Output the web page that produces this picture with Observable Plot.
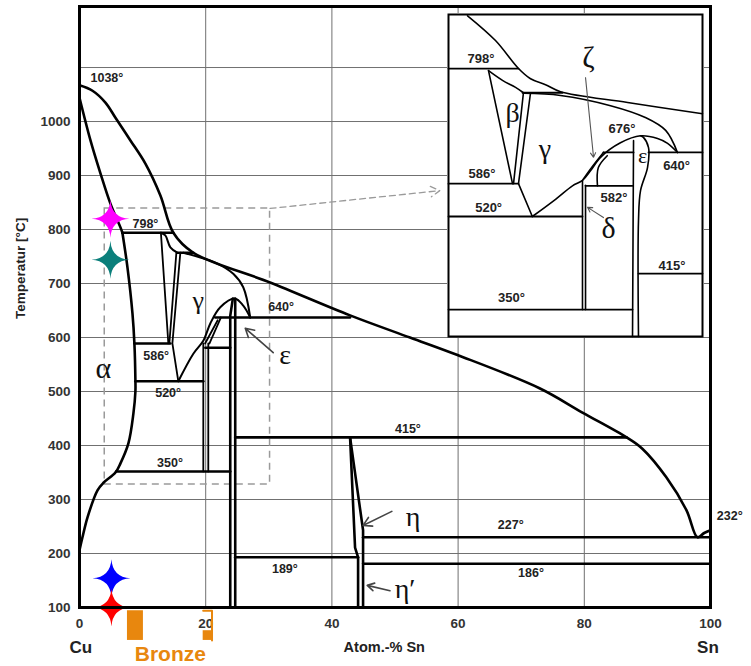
<!DOCTYPE html>
<html><head><meta charset="utf-8">
<script src="https://cdn.jsdelivr.net/npm/d3@7"></script>
<script src="https://cdn.jsdelivr.net/npm/@observablehq/plot@0.6"></script>
<style>
body{margin:0;background:#fff;}
#wrap{position:relative;width:751px;height:666px;overflow:hidden;}
#main{position:absolute;left:0;top:0;}
#inset{position:absolute;left:447px;top:13px;}
</style></head><body>
<div id="wrap"><div id="main"></div><div id="inset"></div></div>
<script>
// ---------- axes ----------
const xTicks = [0, 20, 40, 60, 80, 100];
const yTicks = [100, 200, 300, 400, 500, 600, 700, 800, 900, 1000];
const xGrid = [20, 40, 60, 80];
const yGrid = [200, 300, 400, 500, 600, 700, 800, 900, 1000, 1100];

// ---------- main diagram: [Atom-% Sn, °C] ----------
const liquidus = [[0,1067],[2.06,1057],[4.11,1035],[5.7,1007],[8.07,965],[10.44,922],[12.82,863],[14.87,794],[18.04,757],[30.2,702],[42.88,641],[52.37,600],[59.8,568],[72.9,506],[79.7,461],[86.7,415],[89.2,394],[93.0,341],[96.2,280],[97.94,230],[99.0,238],[100,243]];
const solidusAlpha = [[0,1044],[1.74,965],[3.32,904],[4.9,848],[6.49,804],[6.8,794]];
const solvusAlpha = [[6.8,794],[7.6,730],[8.39,645],[8.7,589],[8.86,520],[8.86,500],[8.54,459],[7.75,404],[6.49,367],[5.7,350],[3.8,331],[2.85,317],[1.27,267],[0.47,230],[0,206]];
// isotherms: [T, x from, x to]
const isotherms = [[794,6.8,14.87],[757,15.5,18.04],[589,8.7,14.4],[519,8.86,19.62],[352,5.8,23.89],[637,21.52,42.88],[581,19.94,23.89],[415,24.68,86.7],[230,44.94,100],[193,24.68,44.15],[181,44.94,100]];
const betaLeft = [[12.9,794],[14.08,589]];
const betaTop = [[12.9,794],[13.6,789],[14.4,767],[15.5,757]];
const betaRight = [[15.35,757],[14.24,589]];
const gammaLeft = [[15.98,757],[14.72,589],[15.66,519]];
const gammaDome = [[15.66,519],[18.04,570],[19.62,594],[20.73,626],[22.31,656],[24.68,672],[25.95,659],[27.06,637]];
const gammaSolidus = [[16.45,757],[21.84,737],[24.37,718],[25.95,693],[27.06,637]];
const deltaA = [[19.62,589],[19.62,352]];
const deltaB = [[20.41,589],[20.41,352]];
const domeInnerA = [[19.9,589],[21.9,632]];
const domeInnerB = [[20.6,589],[22.4,637]];
const epsLeft = [[24.3,672],[23.89,640],[23.89,100]];
const epsRight = [[24.68,672],[24.68,100]];
const etaLeft = [[42.88,415],[43.67,211],[44.15,193],[44.15,100]];
const etaRight = [[42.88,415],[44.94,243],[44.94,100]];

const degLabelsMain = [["1038°",1.74,1080],["798°",8.4,811],["586°",10.1,565],["520°",12.0,498],["350°",12.3,367],["640°",29.9,656],["415°",50.0,430],["227°",66.3,252],["189°",30.5,172],["186°",69.5,163],["232°",101,270]];
const greekMain = [["α",3.8,543,30],["γ",18.83,669,26],["ε",32.6,567,28],["η",52.85,268,28],["η′",51.6,135,28]];
const arrowsMain = [[30.7,572,26.27,617],[49.5,278,44.94,252],[49.2,131,45.6,141]];

// samples (stars)
const starX = [4.9, 4.9, 5.06, 5.06];
const starT = [820, 744, 154, 100];
const starColors = ["#ff00ff", "#0b7f7b", "#0000ff", "#ff0000"];

// zoom window and pointer
const zoomBox = [4.0, 30.2, 328, 839];
const zoomPointer = [30.2, 839, 57.1, 872];

// bronze range marks (below axis)
const bronzeBar = [7.6, 10.13, 39, 94];
const bronzeBracket = [19.6, 21.0, 39, 57, 94];

// ---------- inset (magnified schematic) ----------
const iLiquidus = [[11.2,896],[13.4,850],[15.21,798],[16.16,779],[17.34,768],[18.52,755],[23.8,735],[29.7,714]];
const iGammaSolidus = [[15.6,752],[18.52,748],[22.46,729],[25.2,707],[26.8,683],[27.73,642]];
const iIsotherms = [[798,9.7,15.21],[753,15.53,18.68],[584,9.7,15.21],[523,9.7,20.25],[350,9.7,24.19],[580,20.49,24.19],[642,25.45,29.7],[642,21.9,24.27],[417,24.66,29.7]];
const iBetaLeft = [[12.85,794],[14.74,584]];
const iBetaTop = [[12.85,794],[13.95,776],[14.98,763],[15.6,753]];
const iBetaRight = [[15.6,753],[14.82,584]];
const iGammaLeft = [[16.16,753],[15.21,584],[16.3,523]];
const iGammaDome = [[16.3,523],[18.13,555],[19.46,580],[20.25,590],[20.88,608],[21.67,633],[23.24,660],[24.82,673],[26.16,668],[26.95,659],[27.73,642]];
const iDeltaA = [[20.25,590],[20.25,350]];
const iDeltaB = [[20.49,581],[20.49,350]];
const iZetaA = [[20.3,592],[20.9,612],[21.9,642]];
const iZetaB = [[21.43,580],[21.5,614],[22.2,636]];
const iEpsLeft = [[24.27,664],[24.19,300]];
const iEpsRight = [[24.82,673],[25.05,670],[25.45,651],[25.37,614],[24.82,571],[24.66,515],[24.66,300]];
const degLabelsInset = [["798°",11.2,816],["586°",11.27,603],["520°",11.8,540],["350°",13.6,372],["676°",22.3,686],["640°",26.6,618],["582°",21.67,558],["415°",26.24,432]];
const greekInset = [["β",14.74,716,28],["γ",17.3,648,28],["ζ",20.72,818,30],["δ",22.3,501,30],["ε",24.98,636,22]];
const arrowsInset = [[20.49,781,21.12,633],[21.9,521,20.65,540]];

// ---------- helpers ----------
const SANS = "'Liberation Sans', Arial, Helvetica, sans-serif";
const SERIF = "'Liberation Serif', 'DejaVu Serif', serif";
function rows(curves) {
  return curves.flatMap((pts, i) => pts.map(p => ({id: i, x: p[0], T: p[1]})));
}
function isoRows(list) {
  return rows(list.map(([T, a, b]) => [[a, T], [b, T]]));
}
const star4 = {
  draw(ctx, size) {
    const r = Math.sqrt(size / Math.PI);
    const c = r * 0.06;
    ctx.moveTo(0, -r);
    ctx.quadraticCurveTo(c, -c, r, 0);
    ctx.quadraticCurveTo(c, c, 0, r);
    ctx.quadraticCurveTo(-c, c, -r, 0);
    ctx.quadraticCurveTo(-c, -c, 0, -r);
    ctx.closePath();
  }
};
const lbl = (arr, extra = {}) => Plot.text(arr, {x: d => d[1], y: d => d[2], text: d => d[0], textAnchor: "start", fontSize: 12.5, fontWeight: "bold", fill: "#222", fontFamily: SANS, ...extra});
const greek = (arr) => Plot.text(arr, {x: d => d[1], y: d => d[2], text: d => d[0], fontSize: d => d[3], fontFamily: SERIF, fill: "#111"});

const stars = starX.map((x, i) => ({x, T: starT[i], c: starColors[i]}));

// ---------- main plot ----------
const main = Plot.plot({
  width: 751, height: 666,
  marginLeft: 79, marginRight: 41, marginTop: 6, marginBottom: 59,
  style: {fontFamily: SANS, background: "white", overflow: "visible"},
  x: {domain: [0, 100]},
  y: {domain: [100, 1213]},
  marks: [
    Plot.ruleX(xGrid, {stroke: "#707070", strokeWidth: 1}),
    Plot.ruleY(yGrid, {stroke: "#707070", strokeWidth: 1}),
    Plot.axisY(yTicks, {tickSize: 0, tickPadding: 9, fontSize: 13.5, fontWeight: "bold", fill: "#333", label: null, tickFormat: d => String(d)}),
    Plot.axisX(xTicks, {tickSize: 0, tickPadding: 11, fontSize: 13.5, fontWeight: "bold", fill: "#333", label: null, tickFormat: d => String(d)}),
    // dashed zoom window
    Plot.rect([zoomBox], {x1: d => d[0], x2: d => d[1], y1: d => d[2], y2: d => d[3], fill: "none", stroke: "#9a9a9a", strokeWidth: 1.5, strokeDasharray: "7,5"}),
    Plot.arrow([zoomPointer], {x1: d => d[0], y1: d => d[1], x2: d => d[2], y2: d => d[3], stroke: "#9a9a9a", strokeWidth: 1.3, strokeDasharray: "6,4", headLength: 12, bend: 0}),
    // phase boundaries
    Plot.line(rows([liquidus, solidusAlpha, solvusAlpha]), {x: "x", y: "T", z: "id", stroke: "black", strokeWidth: 2.6, curve: "catmull-rom"}),
    Plot.line(isoRows(isotherms), {x: "x", y: "T", z: "id", stroke: "black", strokeWidth: 2.6}),
    Plot.line(rows([gammaDome, gammaSolidus, betaTop]), {x: "x", y: "T", z: "id", stroke: "black", strokeWidth: 2, curve: "catmull-rom"}),
    Plot.line(rows([betaLeft, betaRight, gammaLeft, domeInnerA, domeInnerB, deltaA, deltaB]), {x: "x", y: "T", z: "id", stroke: "black", strokeWidth: 1.8}),
    Plot.line(rows([epsLeft, epsRight, etaLeft, etaRight]), {x: "x", y: "T", z: "id", stroke: "black", strokeWidth: 2.6}),
    Plot.arrow(arrowsMain, {x1: d => d[0], y1: d => d[1], x2: d => d[2], y2: d => d[3], stroke: "#444", strokeWidth: 1.6, headLength: 9, bend: 0}),
    lbl(degLabelsMain),
    greek(greekMain),
    Plot.text([["Temperatur [°C]", -9.3, 728]], {x: d => d[1], y: d => d[2], text: d => d[0], rotate: -90, fontSize: 13.5, fontWeight: "bold", fill: "#222"}),
    Plot.text([["Cu", 0.2, 26], ["Atom.-% Sn", 48.3, 26], ["Sn", 99.6, 26]], {x: d => d[1], y: d => d[2], text: d => d[0], fontSize: d => d[0] === "Atom.-% Sn" ? 14.5 : 17, fontWeight: "bold", fill: "#222"}),
    // bronze
    Plot.rect([bronzeBar], {x1: d => d[0], x2: d => d[1], y1: d => d[2], y2: d => d[3], fill: "#e8870e"}),
    Plot.rect([bronzeBracket], {x1: d => d[0], x2: d => d[1], y1: d => d[2], y2: d => d[3], fill: "#e8870e"}),
    Plot.line([[bronzeBracket[0], bronzeBracket[4]], [bronzeBracket[1], bronzeBracket[4]], [bronzeBracket[1], bronzeBracket[2]]], {x: d => d[0], y: d => d[1], stroke: "#e8870e", strokeWidth: 2}),
    Plot.text([["Bronze", 14.4, 13]], {x: d => d[1], y: d => d[2], text: d => d[0], fontSize: 21, fontWeight: "bold", fill: "#e8870e"}),
    // samples
    Plot.dot(stars, {x: "x", y: "T", fill: "c", r: 19, symbol: star4, stroke: "none"}),
    Plot.frame({stroke: "black", strokeWidth: 3})
  ]
});
document.getElementById("main").append(main);

// ---------- inset plot ----------
const inset = Plot.plot({
  width: 257, height: 324,
  marginLeft: 1, marginRight: 2, marginTop: 1, marginBottom: 1,
  style: {fontFamily: SANS, background: "white", overflow: "visible"},
  x: {domain: [9.7, 29.7], axis: null},
  y: {domain: [300, 898.4], axis: null},
  marks: [
    Plot.line(rows([iLiquidus, iGammaSolidus, iGammaDome, iBetaTop, iZetaA, iZetaB]), {x: "x", y: "T", z: "id", stroke: "black", strokeWidth: 1.6, curve: "catmull-rom"}),
    Plot.line(isoRows(iIsotherms), {x: "x", y: "T", z: "id", stroke: "black", strokeWidth: 1.8}),
    Plot.line(rows([iBetaLeft, iBetaRight, iGammaLeft, iDeltaA, iDeltaB, iEpsLeft]), {x: "x", y: "T", z: "id", stroke: "black", strokeWidth: 1.6}),
    Plot.line(rows([iEpsRight]), {x: "x", y: "T", z: "id", stroke: "black", strokeWidth: 1.6, curve: "catmull-rom"}),
    Plot.arrow(arrowsInset, {x1: d => d[0], y1: d => d[1], x2: d => d[2], y2: d => d[3], stroke: "#555", strokeWidth: 1.1, headLength: 7, bend: 0}),
    lbl(degLabelsInset, {fontSize: 13}),
    greek(greekInset),
    Plot.frame({stroke: "black", strokeWidth: 2})
  ]
});
document.getElementById("inset").append(inset);
</script>
</body></html>
